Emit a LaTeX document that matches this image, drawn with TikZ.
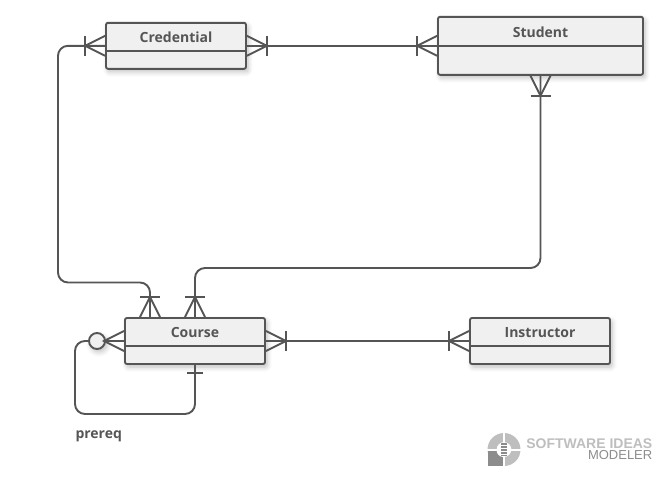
\documentclass[tikz,border=0pt]{standalone}
\usepackage{fontspec}
\setmainfont{Open Sans}
\newfontfamily\logofont{Liberation Sans}
\usepackage{xcolor}
\usetikzlibrary{
    arrows.meta,
    calc,
    shadows.blur
}
\definecolor{erline}{RGB}{85,85,85}
\definecolor{erfill}{RGB}{240,240,240}
\definecolor{logolight}{RGB}{190,190,190}
\definecolor{logodark}{RGB}{140,140,140}
\tikzset{
  box/.style   = {draw=erline, line width=1.9pt, rounded corners=2pt, fill=erfill,
                  inner sep=0pt, align=center, text=erline,
                  font=\fontsize{14}{16}\selectfont\bfseries,
                  blur shadow={shadow xshift=2pt, shadow yshift=-3pt,
                               shadow blur steps=6, shadow blur radius=5pt,
                               shadow opacity=25}},
  conn/.style  = {draw=erline, line width=1.9pt},
  wire/.style  = {conn, rounded corners=10pt},
  crow/.pic    = {\draw[conn] (0,10) -- (-20,0) -- (0,-10);},
  crowbar/.pic = {\draw[conn] (0,10) -- (-20,0) -- (0,-10);
                  \draw[conn] (-20,10) -- (-20,-10);},
  onebar/.pic  = {\draw[conn] (-8,8) -- (-8,-8);}
}

\begin{document}
\begin{tikzpicture}[x=1pt, y=1pt]
\useasboundingbox (0,0) rectangle (663,-477);

%% Entities
\node[box, minimum width=140pt, minimum height=46pt, text height=19.5pt, text depth=26.5pt]
  (credential) at (176,-45.8) {Credential};
\node[box, minimum width=205pt, minimum height=58pt, text height=21pt, text depth=37pt]
  (student) at (540.5,-45.8) {Student};
\node[box, minimum width=140pt, minimum height=46pt, text height=19pt, text depth=27pt]
  (course) at (195,-341) {Course};
\node[box, minimum width=140pt, minimum height=46pt, text height=19pt, text depth=27pt]
  (instructor) at (540,-341) {Instructor};
\node[box, circle, minimum size=16pt] (optional) at (97,-341) {};
\node[text=erline, anchor=west, font=\fontsize{14}{16}\selectfont\bfseries]
  (prereq) at (72,-436) {prereq};

%% Compartment lines
\draw[conn] (credential.west |- 176,-51) -- (credential.east |- 176,-51);
\draw[conn] (student.west |- 540,-46) -- (student.east |- 540,-46);
\draw[conn] (course.west |- 195,-346) -- (course.east |- 195,-346);
\draw[conn] (instructor.west |- 540,-346) -- (instructor.east |- 540,-346);

%% Connectors
\draw[conn] (credential.east) -- (student.west);
\draw[wire] (credential.west) -| (58,-282.5) -| ([xshift=-45pt]course.north);
\draw[wire] (course.north) |- (540.5,-268) -- (student.south);
\draw[conn] (course.east) -- (instructor.west);
\draw[conn] (optional.east) -- (course.west);
\draw[wire] (optional.west) -| (75,-414) -| (course.south);

%% Connector ends
\pic[rotate=0]   at (credential.west) {crowbar};
\pic[rotate=180] at (credential.east) {crowbar};
\pic[rotate=0]   at (student.west) {crowbar};
\pic[rotate=90]  at (student.south) {crowbar};
\pic[rotate=-90] at ([xshift=-45pt]course.north) {crowbar};
\pic[rotate=-90] at (course.north) {crowbar};
\pic[rotate=180] at (course.east) {crowbar};
\pic[rotate=0]   at (instructor.west) {crowbar};
\pic[rotate=0]   at (course.west) {crow};
\pic[rotate=90]  at (course.south) {onebar};

%% Logo
\fill[logolight, even odd rule] (504,-449.5) circle (16.5) (504,-449.5) circle (7.5);
\fill[logodark] (487.5,-450) rectangle (503,-466);
\fill[white] (496.5,-450) arc (180:270:7) -- (503,-450) -- cycle;
\fill[white] (487,-449) rectangle (521,-450.5);
\fill[white] (503,-432) rectangle (505,-467);
\fill[logodark] (501,-443) rectangle (507,-456);
\foreach \y in {-445,-448,-451,-454}
  \fill[white] (501,\y) rectangle (507,\y-1);
\node[anchor=east, inner sep=0pt, text=logolight, font=\logofont\fontsize{14}{14}\selectfont\bfseries]
  (logotop) at (652.5,-443.5) {SOFTWARE IDEAS};
\node[anchor=east, inner sep=0pt, text=logodark, font=\logofont\fontsize{13}{14}\selectfont]
  (logobottom) at (652.5,-455.5) {MODELER};
\end{tikzpicture}
\end{document}
